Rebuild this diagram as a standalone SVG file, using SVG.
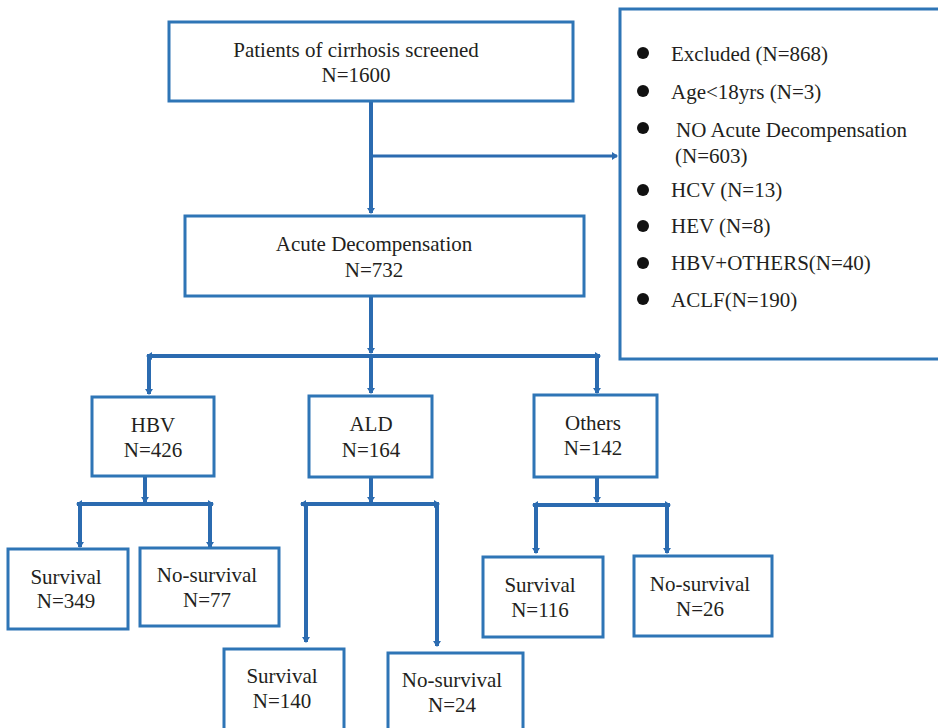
<svg xmlns="http://www.w3.org/2000/svg" width="938" height="728" viewBox="0 0 938 728">
<style>
.box{fill:#ffffff;stroke:#2E75B6;stroke-width:3}
.lbl{font-family:'Liberation Serif', 'Times New Roman', serif;font-size:21px;fill:#231f20}
.mid{text-anchor:middle}
.ln{stroke:#2B6BB0;stroke-width:4;fill:none}
.thin{stroke:#2B6BB0;stroke-width:3;fill:none}
.dot{fill:#111111}
</style>
<defs>
<marker id="ah" viewBox="0 0 6 8" refX="5" refY="4" markerWidth="6" markerHeight="8" orient="auto" markerUnits="userSpaceOnUse">
<path d="M0,0 L6,4 L0,8 z" fill="#2B6BB0"/>
</marker>
</defs>
<rect width="938" height="728" fill="#ffffff"/>

<g id="connectors">
<line class="ln" x1="371" y1="101" x2="371" y2="213" marker-end="url(#ah)"/>
<line class="thin" x1="373" y1="156" x2="617" y2="156" marker-end="url(#ah)"/>
<line class="ln" x1="371" y1="297" x2="371" y2="353" marker-end="url(#ah)"/>
<line class="ln" x1="371" y1="356" x2="147" y2="356" marker-end="url(#ah)"/>
<line class="ln" x1="371" y1="356" x2="600" y2="356" marker-end="url(#ah)"/>
<line class="ln" x1="149" y1="356" x2="149" y2="394" marker-end="url(#ah)"/>
<line class="ln" x1="371" y1="356" x2="371" y2="393" marker-end="url(#ah)"/>
<line class="ln" x1="597" y1="356" x2="597" y2="393" marker-end="url(#ah)"/>

<line class="ln" x1="145" y1="477" x2="145" y2="502" marker-end="url(#ah)"/>
<line class="ln" x1="145" y1="504" x2="77" y2="504" marker-end="url(#ah)"/>
<line class="ln" x1="145" y1="504" x2="213" y2="504" marker-end="url(#ah)"/>
<line class="ln" x1="80" y1="504" x2="80" y2="547" marker-end="url(#ah)"/>
<line class="ln" x1="210" y1="504" x2="210" y2="547" marker-end="url(#ah)"/>

<line class="ln" x1="371" y1="478" x2="371" y2="502" marker-end="url(#ah)"/>
<line class="ln" x1="371" y1="504" x2="301" y2="504" marker-end="url(#ah)"/>
<line class="ln" x1="371" y1="504" x2="439" y2="504" marker-end="url(#ah)"/>
<line class="ln" x1="306" y1="504" x2="306" y2="642" marker-end="url(#ah)"/>
<line class="ln" x1="437" y1="504" x2="437" y2="646" marker-end="url(#ah)"/>

<line class="ln" x1="597" y1="478" x2="597" y2="502" marker-end="url(#ah)"/>
<line class="ln" x1="597" y1="505" x2="533" y2="505" marker-end="url(#ah)"/>
<line class="ln" x1="597" y1="505" x2="670" y2="505" marker-end="url(#ah)"/>
<line class="ln" x1="536" y1="505" x2="536" y2="553" marker-end="url(#ah)"/>
<line class="ln" x1="667" y1="505" x2="667" y2="553" marker-end="url(#ah)"/>
</g>

<g id="nodes">
<g id="screened">
<rect class="box" x="169" y="22" width="404" height="79"/>
<text class="lbl mid" x="356" y="57">Patients of cirrhosis screened</text>
<text class="lbl mid" x="356" y="82">N=1600</text>
</g>

<g id="excluded">
<rect class="box" x="620" y="9" width="330" height="350"/>
<circle class="dot" cx="643" cy="53" r="6"/>
<text class="lbl" x="671" y="61">Excluded (N=868)</text>
<circle class="dot" cx="643" cy="91" r="6"/>
<text class="lbl" x="671" y="99">Age&lt;18yrs (N=3)</text>
<circle class="dot" cx="643" cy="128" r="6"/>
<text class="lbl" x="676" y="137">NO Acute Decompensation</text>
<text class="lbl" x="675" y="163">(N=603)</text>
<circle class="dot" cx="643" cy="190" r="6"/>
<text class="lbl" x="671" y="197">HCV (N=13)</text>
<circle class="dot" cx="643" cy="226" r="6"/>
<text class="lbl" x="671" y="233">HEV (N=8)</text>
<circle class="dot" cx="643" cy="263" r="6"/>
<text class="lbl" x="671" y="270">HBV+OTHERS(N=40)</text>
<circle class="dot" cx="643" cy="299" r="6"/>
<text class="lbl" x="671" y="307">ACLF(N=190)</text>
</g>

<g id="acute">
<rect class="box" x="185" y="216" width="399" height="80"/>
<text class="lbl mid" x="374" y="251">Acute Decompensation</text>
<text class="lbl mid" x="374" y="277">N=732</text>
</g>

<g id="hbv">
<rect class="box" x="92" y="397" width="122" height="79"/>
<text class="lbl mid" x="153" y="432">HBV</text>
<text class="lbl mid" x="153" y="457">N=426</text>
</g>

<g id="ald">
<rect class="box" x="309" y="396" width="123" height="81"/>
<text class="lbl mid" x="371" y="431">ALD</text>
<text class="lbl mid" x="371" y="457">N=164</text>
</g>

<g id="others">
<rect class="box" x="534" y="395" width="123" height="82"/>
<text class="lbl mid" x="593" y="430">Others</text>
<text class="lbl mid" x="593" y="455">N=142</text>
</g>

<g id="hbv-survival">
<rect class="box" x="8" y="549" width="120" height="80"/>
<text class="lbl mid" x="66" y="584">Survival</text>
<text class="lbl mid" x="66" y="608">N=349</text>
</g>

<g id="hbv-nosurvival">
<rect class="box" x="140" y="548" width="139" height="78"/>
<text class="lbl mid" x="207" y="582">No-survival</text>
<text class="lbl mid" x="207" y="607">N=77</text>
</g>

<g id="ald-survival">
<rect class="box" x="224" y="649" width="120" height="95"/>
<text class="lbl mid" x="282" y="683">Survival</text>
<text class="lbl mid" x="282" y="708">N=140</text>
</g>

<g id="ald-nosurvival">
<rect class="box" x="388" y="653" width="135" height="95"/>
<text class="lbl mid" x="452" y="687">No-survival</text>
<text class="lbl mid" x="452" y="712">N=24</text>
</g>

<g id="others-survival">
<rect class="box" x="483" y="557" width="120" height="80"/>
<text class="lbl mid" x="540" y="592">Survival</text>
<text class="lbl mid" x="540" y="617">N=116</text>
</g>

<g id="others-nosurvival">
<rect class="box" x="634" y="556" width="138" height="80"/>
<text class="lbl mid" x="700" y="591">No-survival</text>
<text class="lbl mid" x="700" y="616">N=26</text>
</g>
</g>
</svg>
